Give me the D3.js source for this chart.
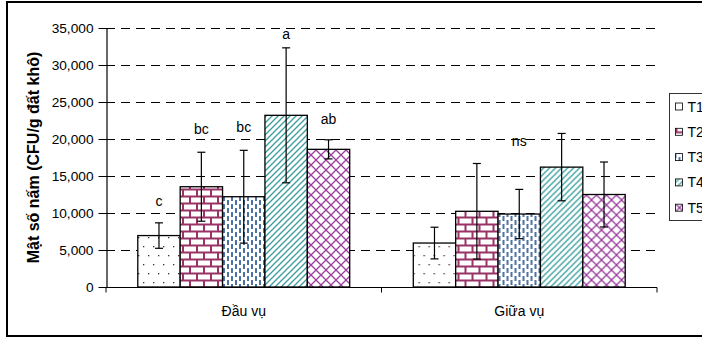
<!DOCTYPE html>
<html>
<head>
<meta charset="utf-8">
<script src="https://cdn.jsdelivr.net/npm/d3@7"></script>
<style>
  body { margin: 0; background: #fff; }
  svg { display: block; font-family: "Liberation Sans", Arial, sans-serif; }
</style>
</head>
<body>
<svg width="702" height="338"></svg>
<script>
// data
var categories = ["Đầu vụ", "Giữa vụ"];
var series = ["T1", "T2", "T3", "T4", "T5"];
var dauVu = [6950, 13550, 12200, 23200, 18600];
var dauVuErr = [1720, 4660, 6270, 9120, 1290];
var giuaVu = [5940, 10230, 9860, 16200, 12500];
var giuaVuErr = [2140, 6460, 3330, 4550, 4390];
var dauVuLetters = ["c", "bc", "bc", "a", "ab"];
var dauVuLetterY = [10900, 20700, 20900, 33500, 22000];
var giuaVuLetters = ["", "", "ns", "", ""];
var giuaVuLetterY = [0, 0, 19100, 0, 0];
var yTicks = [0, 5000, 10000, 15000, 20000, 25000, 30000, 35000];
var yTitle = "Mật số nấm (CFU/g đất khô)";

var values = [dauVu, giuaVu], errs = [dauVuErr, giuaVuErr];
var letters = [dauVuLetters, giuaVuLetters], letterY = [dauVuLetterY, giuaVuLetterY];

var svg = d3.select("svg"),
    margin = {top: 28, left: 106, right: 657, bottom: 287};

var x0 = d3.scaleBand().domain(categories).range([margin.left, margin.right]).padding(0);
var x1 = d3.scaleBand().domain(series).range([0, x0.bandwidth()]).paddingInner(0).paddingOuter(0.75);
var y = d3.scaleLinear().domain([0, 35000]).range([margin.bottom, margin.top]);

// pattern fills
var defs = svg.append("defs");
function pat(id, w, h) {
  return defs.append("pattern").attr("id", id).attr("patternUnits", "userSpaceOnUse")
    .attr("width", w).attr("height", h);
}
var p1 = pat("pT1", 10, 18);
p1.append("rect").attr("width", 10).attr("height", 18).attr("fill", "#fff");
p1.append("rect").attr("x", 2).attr("y", 3).attr("width", 1.3).attr("height", 1.3).attr("fill", "#333");
p1.append("rect").attr("x", 7).attr("y", 12).attr("width", 1.3).attr("height", 1.3).attr("fill", "#333");

var p2 = pat("pT2", 14, 14);
p2.append("rect").attr("width", 14).attr("height", 14).attr("fill", "#993366");
p2.append("rect").attr("x", 1).attr("y", 1.5).attr("width", 12).attr("height", 5).attr("fill", "#fff");
p2.append("rect").attr("x", 8).attr("y", 8.5).attr("width", 12).attr("height", 5).attr("fill", "#fff");
p2.append("rect").attr("x", -6).attr("y", 8.5).attr("width", 12).attr("height", 5).attr("fill", "#fff");

var p3 = pat("pT3", 8, 8);
p3.append("rect").attr("width", 8).attr("height", 8).attr("fill", "#fff");
p3.append("line").attr("x1", 2).attr("x2", 2).attr("y1", 0).attr("y2", 5).attr("stroke", "#1f4f8a").attr("stroke-width", 1.6);
p3.append("line").attr("x1", 6).attr("x2", 6).attr("y1", 4).attr("y2", 8).attr("stroke", "#1f4f8a").attr("stroke-width", 1.6);
p3.append("line").attr("x1", 6).attr("x2", 6).attr("y1", 0).attr("y2", 1).attr("stroke", "#1f4f8a").attr("stroke-width", 1.6);

var p4 = pat("pT4", 6, 6);
p4.append("rect").attr("width", 6).attr("height", 6).attr("fill", "#fff");
p4.append("path").attr("d", "M-1,7 L7,-1 M-1,1 L1,-1 M5,7 L7,5").attr("stroke", "#3a9c9c").attr("stroke-width", 1.3);

var p5 = pat("pT5", 10, 10);
p5.append("rect").attr("width", 10).attr("height", 10).attr("fill", "#fff");
p5.append("path").attr("d", "M0,0 L10,10 M10,0 L0,10").attr("stroke", "#9a3c9e").attr("stroke-width", 1.3);

// outer border
svg.append("rect").attr("x", 7).attr("y", 2).attr("width", 720).attr("height", 334)
  .attr("fill", "none").attr("stroke", "#000").attr("stroke-width", 2);

// gridlines
svg.append("g").selectAll("line").data(yTicks.filter(function(d) { return d > 0; }))
  .enter().append("line")
  .attr("x1", margin.left).attr("x2", margin.right)
  .attr("y1", function(d) { return Math.round(y(d)) + 0.5; })
  .attr("y2", function(d) { return Math.round(y(d)) + 0.5; })
  .attr("stroke", "#000").attr("stroke-dasharray", "9,6");

// bars
var groups = svg.append("g").selectAll("g").data(categories).enter().append("g")
  .attr("transform", function(d) { return "translate(" + x0(d) + ",0)"; });

groups.selectAll("rect").data(function(d, gi) {
    return series.map(function(s, i) { return {s: s, v: values[gi][i]}; });
  })
  .enter().append("rect")
  .attr("x", function(d) { return x1(d.s); })
  .attr("width", x1.bandwidth())
  .attr("y", function(d) { return y(d.v); })
  .attr("height", function(d) { return y(0) - y(d.v); })
  .attr("fill", function(d) { return "url(#p" + d.s + ")"; })
  .attr("stroke", "#000").attr("stroke-width", 1.3);

// error bars
var eb = groups.selectAll("g.err").data(function(d, gi) {
    return series.map(function(s, i) { return {s: s, v: values[gi][i], e: errs[gi][i]}; });
  })
  .enter().append("g").attr("class", "err")
  .attr("transform", function(d) { return "translate(" + (x1(d.s) + x1.bandwidth() / 2) + ",0)"; });
eb.append("line").attr("x1", 0).attr("x2", 0)
  .attr("y1", function(d) { return y(d.v + d.e); })
  .attr("y2", function(d) { return y(d.v - d.e); })
  .attr("stroke", "#000").attr("stroke-width", 1.2);
eb.append("line").attr("x1", -4).attr("x2", 4)
  .attr("y1", function(d) { return y(d.v + d.e); }).attr("y2", function(d) { return y(d.v + d.e); })
  .attr("stroke", "#000").attr("stroke-width", 1.2);
eb.append("line").attr("x1", -4).attr("x2", 4)
  .attr("y1", function(d) { return y(d.v - d.e); }).attr("y2", function(d) { return y(d.v - d.e); })
  .attr("stroke", "#000").attr("stroke-width", 1.2);

// significance letters
groups.selectAll("text.sig").data(function(d, gi) {
    return series.map(function(s, i) { return {s: s, l: letters[gi][i], ly: letterY[gi][i]}; })
      .filter(function(d) { return d.l !== ""; });
  })
  .enter().append("text").attr("class", "sig")
  .attr("x", function(d) { return x1(d.s) + x1.bandwidth() / 2; })
  .attr("y", function(d) { return y(d.ly); })
  .attr("text-anchor", "middle").attr("font-size", "14px").attr("fill", "#000")
  .text(function(d) { return d.l; });

// y axis
var yAxis = d3.axisLeft(y).tickValues(yTicks).tickSizeOuter(0).tickSizeInner(8).tickPadding(5)
  .tickFormat(d3.format(","));
var ya = svg.append("g").attr("transform", "translate(" + (margin.left + 0.5) + ",0)").call(yAxis);
ya.selectAll("text").attr("font-size", "13.7px").attr("fill", "#000").attr("font-family", null);
ya.selectAll("line").attr("x2", -8).attr("x1", 3);
ya.select(".domain").attr("stroke", "#000").attr("stroke-width", 1.2);

// x axis
var xa = svg.append("g").attr("transform", "translate(0," + (margin.bottom + 0.5) + ")");
xa.append("line").attr("x1", margin.left).attr("x2", margin.right).attr("stroke", "#000").attr("stroke-width", 1.2);
xa.selectAll("line.tk").data([margin.left].concat(categories.map(function(c) { return x0(c) + x0.bandwidth(); })))
  .enter().append("line").attr("class", "tk")
  .attr("x1", function(d) { return d; }).attr("x2", function(d) { return d; })
  .attr("y1", 0).attr("y2", 5).attr("stroke", "#000");
xa.selectAll("text").data(categories).enter().append("text")
  .attr("x", function(d) { return x0(d) + x0.bandwidth() / 2; })
  .attr("y", 28).attr("text-anchor", "middle").attr("font-size", "14px")
  .text(function(d) { return d; });

// y title
svg.append("text")
  .attr("transform", "translate(39,157.5) rotate(-90)")
  .attr("text-anchor", "middle").attr("font-size", "16px").attr("font-weight", "bold")
  .text(yTitle);

// legend (cut off at the right edge, as in the source picture)
var legend = svg.append("g").attr("transform", "translate(669.5,93.5)");
legend.append("rect").attr("width", 60).attr("height", 127).attr("fill", "#fff").attr("stroke", "#333");
var li = legend.selectAll("g").data(series).enter().append("g")
  .attr("transform", function(d, i) { return "translate(0," + (13 + i * 25.3) + ")"; });
li.append("rect").attr("x", 6).attr("y", -3.5).attr("width", 7).attr("height", 7)
  .attr("fill", function(d) { return "url(#p" + d + ")"; }).attr("stroke", "#000").attr("stroke-width", 0.8);
li.append("text").attr("x", 18).attr("y", 5).attr("font-size", "14px").text(function(d) { return d; });
</script>
</body>
</html>
